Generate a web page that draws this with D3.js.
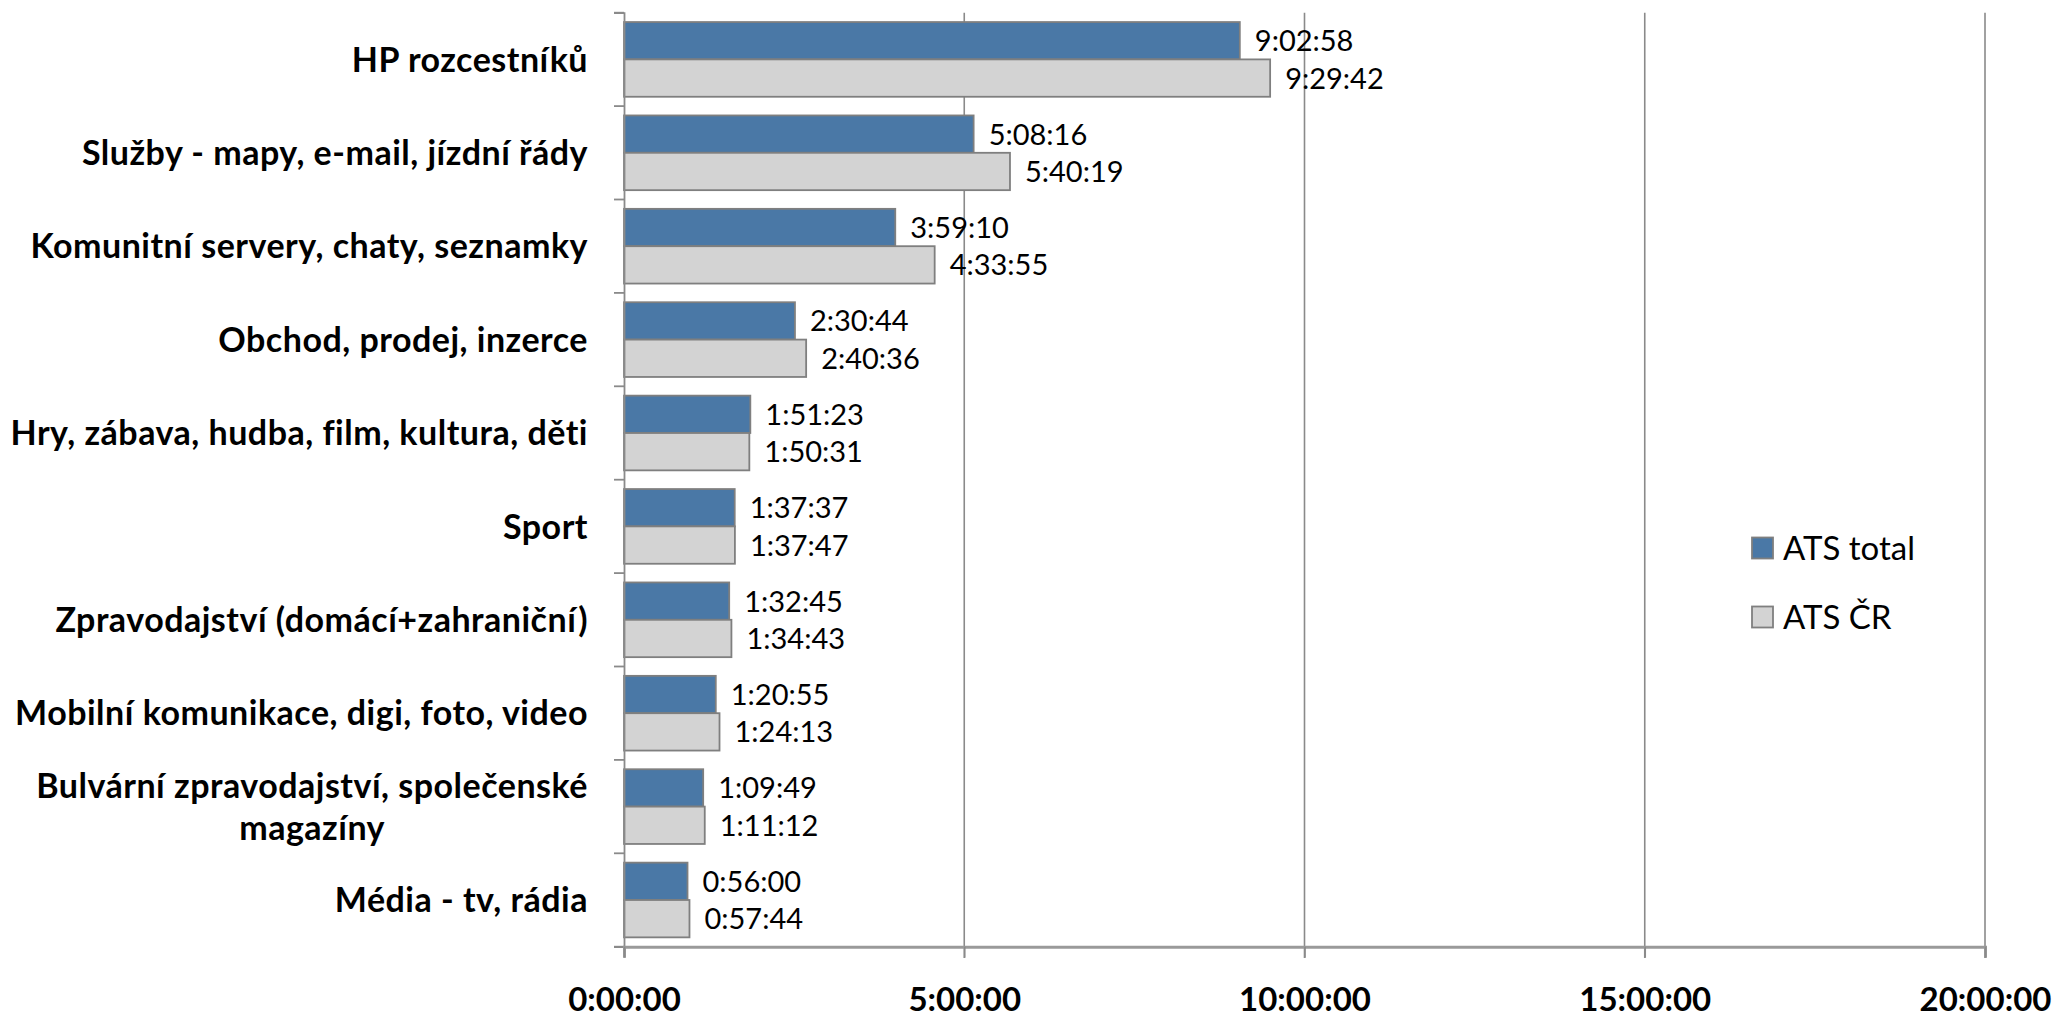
<!DOCTYPE html>
<html>
<head>
<meta charset="utf-8">
<script src="https://cdn.jsdelivr.net/npm/d3@7"></script>
<style>
  html, body { margin: 0; padding: 0; background: #fff; }
  svg { display: block; }
  text { font-family: Lato, "Open Sans", sans-serif; fill: #000; }
</style>
</head>
<body>
<svg id="chart" width="2055" height="1020"></svg>
<script>
const categories = [
  ["HP rozcestníků"],
  ["Služby - mapy, e-mail, jízdní řády"],
  ["Komunitní servery, chaty, seznamky"],
  ["Obchod, prodej, inzerce"],
  ["Hry, zábava, hudba, film, kultura, děti"],
  ["Sport"],
  ["Zpravodajství (domácí+zahraniční)"],
  ["Mobilní komunikace, digi, foto, video"],
  ["Bulvární zpravodajství, společenské", "magazíny"],
  ["Média - tv, rádia"]
];
const seriesNames = ["ATS total", "ATS ČR"];
const atsTotal = ["9:02:58","5:08:16","3:59:10","2:30:44","1:51:23","1:37:37","1:32:45","1:20:55","1:09:49","0:56:00"];
const atsCR    = ["9:29:42","5:40:19","4:33:55","2:40:36","1:50:31","1:37:47","1:34:43","1:24:13","1:11:12","0:57:44"];
const tickLabels = ["0:00:00","5:00:00","10:00:00","15:00:00","20:00:00"];

const colors = { "ATS total": "#4a78a6", "ATS ČR": "#d3d3d3" };
const strokeCol = "#7f7f7f";

function toSec(s) { const p = s.split(":").map(Number); return p[0]*3600 + p[1]*60 + p[2]; }
const tickValues = tickLabels.map(toSec);

const catKeys = categories.map(c => c.join(" "));
const data = catKeys.map((k, i) => ({
  key: k, lines: categories[i],
  vals: [
    { s: seriesNames[0], label: atsTotal[i], v: toSec(atsTotal[i]) },
    { s: seriesNames[1], label: atsCR[i], v: toSec(atsCR[i]) }
  ]
}));

const svg = d3.select("#chart");
const x = d3.scaleLinear().domain([0, d3.max(tickValues)]).range([624, 1985]);
const y = d3.scaleBand().domain(catKeys).range([12.7, 946.7]).paddingInner(0).paddingOuter(0);
const ys = d3.scaleBand().domain(seriesNames).range([0, y.bandwidth()]).paddingInner(0).paddingOuter(0.25);

// gridlines
svg.append("g").selectAll("line").data(tickValues.slice(1)).join("line")
  .attr("x1", d => x(d)).attr("x2", d => x(d))
  .attr("y1", 12.7).attr("y2", 958)
  .attr("stroke", "#8a8a8a").attr("stroke-width", 1.6);

// bars
const groups = svg.append("g").selectAll("g").data(data).join("g")
  .attr("transform", d => `translate(0,${y(d.key)})`);
groups.selectAll("rect").data(d => d.vals).join("rect")
  .attr("x", x(0))
  .attr("y", d => ys(d.s))
  .attr("width", d => x(d.v) - x(0))
  .attr("height", ys.bandwidth())
  .attr("fill", d => colors[d.s])
  .attr("stroke", strokeCol).attr("stroke-width", 1.8);
groups.selectAll("text").data(d => d.vals).join("text")
  .attr("x", d => x(d.v) + 15)
  .attr("y", d => ys(d.s) + ys.bandwidth()/2)
  .attr("dy", "0.36em")
  .attr("font-size", 29)
  .text(d => d.label);

// left axis
const yAxis = d3.axisLeft(y).tickSize(10).tickFormat("");
const ya = svg.append("g").attr("transform", `translate(${x(0)},0)`).call(yAxis);
ya.selectAll("line,path").attr("stroke", "#8a8a8a").attr("stroke-width", 1.8);
svg.append("g").selectAll("line").data(catKeys.map(k => y(k)).concat([946.7])).join("line")
  .attr("x1", x(0) - 10).attr("x2", x(0)).attr("y1", d => d).attr("y2", d => d)
  .attr("stroke", "#8a8a8a").attr("stroke-width", 1.8);
ya.selectAll(".tick").remove();

// bottom axis
const xAxis = d3.axisBottom(x).tickValues(tickValues).tickSize(11).tickFormat((d, i) => tickLabels[i]);
const xa = svg.append("g").attr("transform", "translate(0,946.7)").call(xAxis);
xa.select(".domain").attr("stroke", "#9a9a9a").attr("stroke-width", 3);
xa.selectAll(".tick line").attr("stroke", "#8a8a8a").attr("stroke-width", 1.6);
xa.selectAll(".tick text")
  .attr("y", 64).attr("dy", 0)
  .attr("font-size", 33).attr("font-weight", "bold")
  .attr("font-family", "Lato, sans-serif").attr("fill", "#000");

// category labels
const lab = svg.append("g").selectAll("text").data(data).join("text")
  .attr("font-size", 34).attr("font-weight", "bold").attr("letter-spacing", 0.5);
lab.each(function(d) {
  const t = d3.select(this);
  const cy = y(d.key) + y.bandwidth()/2;
  const lh = 42;
  const n = d.lines.length;
  d.lines.forEach((ln, i) => {
    t.append("tspan").attr("x", 588).attr("y", cy + (i - (n-1)/2) * lh).attr("dy", "0.36em").text(ln);
  });
  if (n === 1) {
    t.attr("text-anchor", "end");
  } else {
    const widths = [];
    t.selectAll("tspan").each(function() { widths.push(this.getComputedTextLength()); });
    const mw = d3.max(widths);
    t.attr("text-anchor", "middle");
    t.selectAll("tspan").attr("x", 588 - mw/2);
  }
});

// legend
const leg = svg.append("g").selectAll("g").data(seriesNames).join("g")
  .attr("transform", (d, i) => `translate(1752,${548 + i*69})`);
leg.append("rect").attr("x", 0).attr("y", -10.5).attr("width", 21).attr("height", 21)
  .attr("fill", d => colors[d]).attr("stroke", strokeCol).attr("stroke-width", 1.8);
leg.append("text").attr("x", 31).attr("y", 0).attr("dy", "0.36em")
  .attr("font-size", 33).text(d => d);
</script>
</body>
</html>
